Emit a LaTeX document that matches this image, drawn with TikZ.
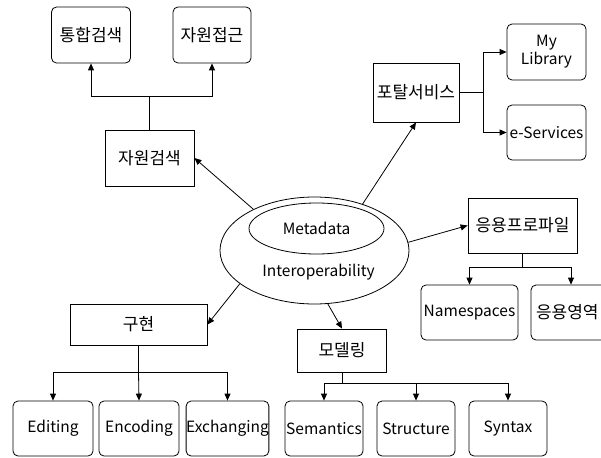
\documentclass[tikz,border=0pt]{standalone}
\usepackage{fontspec}
\setmainfont{Noto Sans CJK KR}
\usetikzlibrary{arrows.meta,shapes.geometric}
\begin{document}
\begin{tikzpicture}[x=1pt,y=-1pt,
  every node/.style={font=\fontsize{15.5}{18}\selectfont, inner sep=0pt},
  ko/.style={font=\fontsize{17}{20}\selectfont},
  rbox/.style={draw, rounded corners=5pt, line width=0.8pt, align=center},
  sbox/.style={draw, line width=0.8pt, align=center},
  conn/.style={line width=0.8pt},
  arr/.style={conn, -{Triangle[length=7pt,width=6pt]}}]
\clip (0,0) rectangle (601,457);
% top-left group
\node[rbox, ko, minimum width=79pt, minimum height=56pt] (t1) at (91,35) {통합검색};
\node[rbox, ko, minimum width=78pt, minimum height=56pt] (t2) at (212,35) {자원접근};
\node[sbox, ko, minimum width=89pt, minimum height=56pt] (s) at (149.5,158) {자원검색};
% portal group
\node[sbox, ko, minimum width=86pt, minimum height=59pt] (p) at (416,92.5) {포탈서비스};
\node[rbox, minimum width=79pt, minimum height=56pt] (ml) at (546.5,52) {My\\Library};
\node[rbox, minimum width=79pt, minimum height=55pt] (es) at (546.5,132.5) {e-Services};
% center ellipses
\node[draw, ellipse, line width=0.8pt, minimum width=189pt, minimum height=107pt] (o) at (314.5,250.5) {};
\node[draw, ellipse, line width=0.8pt, minimum width=135pt, minimum height=51pt] (in) at (316.5,228.5) {};
\node (mt) at (316.5,228) {Metadata};
\node (io) at (318.5,272) {Interoperability};
% application profile group
\node[sbox, ko, minimum width=109pt, minimum height=55pt] (ap) at (522.5,225.5) {응용프로파일};
\node[rbox, minimum width=97pt, minimum height=55pt] (ns) at (469.5,312.5) {Namespaces};
\node[rbox, ko, minimum width=80pt, minimum height=55pt, text width=74pt, align=left] (aa) at (571,312.5) {\hspace*{2pt}응용영역};
% implementation group
\node[sbox, ko, minimum width=137pt, minimum height=41pt] (g) at (138.5,324.5) {구현};
\node[rbox, minimum width=80pt, minimum height=55pt] (ed) at (53,428.5) {Editing};
\node[rbox, minimum width=80pt, minimum height=55pt] (en) at (139,428.5) {Encoding};
\node[rbox, minimum width=81pt, minimum height=55pt] (ex) at (227.5,428.5) {Exchanging};
% modelling group
\node[sbox, ko, minimum width=89pt, minimum height=43pt] (m) at (342,350.5) {모델링};
\node[rbox, minimum width=78pt, minimum height=55pt] (se) at (324,428.5) {Semantics};
\node[rbox, minimum width=78pt, minimum height=55pt] (st) at (416,428.5) {Structure};
\node[rbox, minimum width=78pt, minimum height=55pt] (sy) at (508,428.5) {Syntax};
% tree connectors
\draw[conn] (s.north) -- ++(0,-33) coordinate (j1);
\draw[arr] (j1) -| (t1.south);
\draw[arr] (j1) -| (t2.south);
\draw[conn] (p.east) -- ++(24,0) coordinate (j2);
\draw[arr] (j2) |- (ml.west);
\draw[arr] (j2) |- (es.west);
\draw[conn] (ap.south) -- ++(0,14) coordinate (j3);
\draw[arr] (j3) -| (ns.north);
\draw[arr] (j3) -| (aa.north);
\draw[conn] (g.south) -- ++(0,27) coordinate (j4);
\draw[arr] (j4) -| (ed.north);
\draw[arr] (j4) -- (en.north);
\draw[arr] (j4) -| (ex.north);
\draw[conn] (m.south) -- ++(0,11) coordinate (j5);
\draw[arr] (j5) -| (se.north);
\draw[arr] (j5) -| (st.north);
\draw[arr] (j5) -| (sy.north);
% radial arrows
\draw[arr] (o.146) -- (s.east);
\draw[arr] (o.44) -- (p.south);
\draw[arr] (o.5) -- (ap.west);
\draw[arr] (o.204) -- (g.east);
\draw[arr] (o.284) -- (m.north);
\end{tikzpicture}
\end{document}
